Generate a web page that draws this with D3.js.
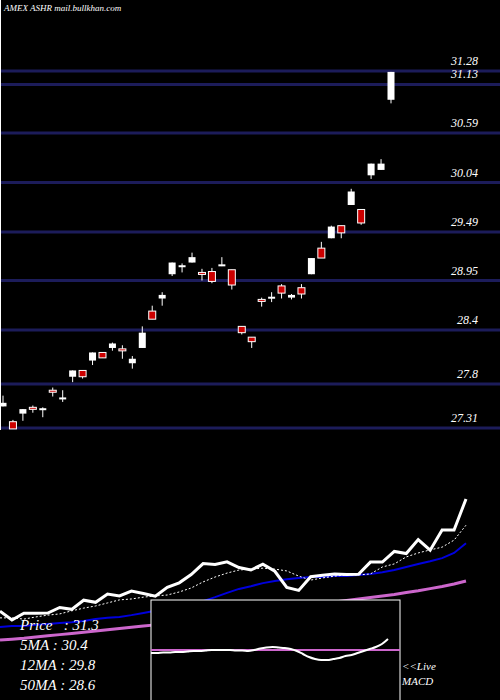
<!DOCTYPE html><html><head><meta charset="utf-8">
<script src="https://cdn.jsdelivr.net/npm/d3@7/dist/d3.min.js"></script>
<style>body{margin:0;background:#000}svg{display:block}</style></head><body>
<script>
const title = "AMEX  ASHR mail.bullkhan.com";
const tickLabels = ["31.28","31.13","30.59","30.04","29.49","28.95","28.4","27.8","27.31"];
const opens  = [27.55,27.38,27.47,27.54,27.52,27.73,27.64,27.88,27.95,28.06,28.15,28.20,28.19,28.03,28.20,28.61,28.75,29.02,29.12,29.15,29.04,29.05,29.13,29.07,28.44,28.32,28.74,28.77,28.89,28.76,28.87,29.02,29.31,29.42,29.56,29.79,29.74,30.12,30.18,30.96];
const highs  = [27.67,27.40,27.52,27.56,27.54,27.76,27.73,27.95,27.95,28.15,28.15,28.26,28.23,28.11,28.44,28.67,28.82,29.15,29.14,29.26,29.08,29.09,29.21,29.07,28.44,28.32,28.76,28.82,28.91,28.80,28.91,29.20,29.38,29.56,29.56,29.97,29.74,30.25,30.30,31.27];
const lows   = [27.55,27.30,27.39,27.48,27.43,27.66,27.60,27.82,27.86,28.01,28.09,28.17,28.08,27.97,28.20,28.52,28.67,29.00,29.04,29.15,28.95,28.92,29.11,28.85,28.35,28.20,28.66,28.71,28.75,28.74,28.75,29.02,29.20,29.42,29.42,29.79,29.57,30.08,30.18,30.92];
const closes = [27.59,27.30,27.52,27.52,27.53,27.71,27.65,27.95,27.88,28.15,28.09,28.25,28.17,28.08,28.37,28.52,28.79,29.15,29.12,29.21,29.02,28.94,29.13,28.90,28.37,28.27,28.72,28.77,28.81,28.79,28.80,29.20,29.20,29.55,29.48,29.94,29.59,30.25,30.25,31.27];
const ma5  = [27.37,27.37,27.33,27.40,27.46,27.50,27.60,27.69,27.76,27.86,27.96,27.99,28.05,28.09,28.12,28.22,28.35,28.55,28.71,28.84,28.94,28.97,29.00,28.97,28.91,28.74,28.61,28.68,28.74,28.78,28.78,28.81,29.04,29.14,29.37,29.50,29.60,29.69,29.92,30.41];
const ma12 = [27.07,27.10,27.10,27.14,27.17,27.20,27.23,27.27,27.33,27.37,27.40,27.46,27.53,27.60,27.66,27.76,27.82,27.92,28.05,28.19,28.32,28.41,28.51,28.58,28.64,28.68,28.71,28.71,28.74,28.74,28.78,28.81,28.87,28.94,29.04,29.14,29.23,29.33,29.50,29.82];
const ma50 = [26.64,26.67,26.70,26.74,26.78,26.82,26.86,26.90,26.94,26.98,27.02,27.06,27.10,27.14,27.19,27.24,27.29,27.34,27.39,27.44,27.49,27.54,27.59,27.64,27.69,27.74,27.79,27.84,27.89,27.94,27.99,28.04,28.09,28.14,28.20,28.26,28.33,28.40,28.48,28.58];
const macd = [-0.03,-0.03,-0.025,-0.025,-0.02,-0.02,-0.015,-0.01,-0.01,-0.005,0,0,0,0,-0.005,-0.005,-0.01,0,0.015,0.025,0.03,0.025,0.02,0.01,-0.01,-0.04,-0.07,-0.09,-0.10,-0.10,-0.09,-0.08,-0.06,-0.05,-0.03,-0.01,0.01,0.03,0.06,0.11];
const legend = ["Price   : 31.3","5MA : 30.4","12MA : 29.8","50MA : 28.6"];

const W=500,H=700;
const svg=d3.select("body").append("svg").attr("width",W).attr("height",H).style("background","#000");
const font="'Liberation Serif','DejaVu Serif',serif";
const y=d3.scaleLinear().domain([27.31,31.28]).range([428,71]);
const x=d3.scaleLinear().domain([0,39]).range([3,391]);
// grid
tickLabels.forEach(t=>{
  const yy=y(+t);
  svg.append("line").attr("x1",0).attr("x2",W).attr("y1",yy).attr("y2",yy).attr("stroke","#1c1c5a").attr("stroke-width",3);
  svg.append("text").attr("x",478).attr("y",yy-6).attr("text-anchor","end").attr("fill","#fff")
    .attr("font-family",font).attr("font-style","italic").attr("font-size",12).text(t);
});
svg.append("line").attr("x1",0.5).attr("x2",0.5).attr("y1",0).attr("y2",430).attr("stroke","#fff");
svg.append("text").attr("x",4).attr("y",11).attr("fill","#fff").attr("font-family",font).attr("font-style","italic").attr("font-size",9).text(title);
// candles
closes.forEach((c,i)=>{
  const o=opens[i],up=c>=o,cx=x(i);
  svg.append("line").attr("x1",cx).attr("x2",cx).attr("y1",y(highs[i])).attr("y2",y(lows[i])).attr("stroke","#fff").attr("stroke-width",1);
  const top=y(Math.max(o,c)),bh=Math.max(2,Math.abs(y(o)-y(c)));
  svg.append("rect").attr("x",cx-3.5).attr("y",top).attr("width",7).attr("height",bh)
    .attr("fill",up?"#fff":"#cc0000").attr("stroke","#fff").attr("stroke-width",up?0:1);
});
// lower panel
const y2=d3.scaleLinear().domain([27.3,31.27]).range([620,499]);
const x2=d3.scaleLinear().domain([0,39]).range([0,466]);
const ln=d3.line().x((d,i)=>x2(i)).y(d=>y2(d));
svg.append("path").attr("d",ln(ma50)).attr("fill","none").attr("stroke","#cc66cc").attr("stroke-width",3);
svg.append("path").attr("d",ln(ma12)).attr("fill","none").attr("stroke","#0000dd").attr("stroke-width",2);
svg.append("path").attr("d",ln(ma5)).attr("fill","none").attr("stroke","#fff").attr("stroke-width",1).attr("stroke-dasharray","2,2");
svg.append("path").attr("d",ln(closes)).attr("fill","none").attr("stroke","#fff").attr("stroke-width",3);
// macd box
svg.append("rect").attr("x",151).attr("y",600).attr("width",249).attr("height",105).attr("fill","#000").attr("stroke","#fff").attr("stroke-width",1);
svg.append("line").attr("x1",151).attr("x2",400).attr("y1",650).attr("y2",650).attr("stroke","#cc66cc").attr("stroke-width",2);
const xm=d3.scaleLinear().domain([0,39]).range([151,388]);
const ym=d3.scaleLinear().domain([0,0.1]).range([650,640]);
svg.append("path").attr("d",d3.line().x((d,i)=>xm(i)).y(d=>ym(d)).curve(d3.curveMonotoneX)(macd)).attr("fill","none").attr("stroke","#fff").attr("stroke-width",2);
legend.forEach((t,i)=>{
  svg.append("text").attr("x",20).attr("y",630+i*20).attr("fill","#fff").attr("font-family",font).attr("font-style","italic").attr("font-size",15).attr("xml:space","preserve").style("white-space","pre").text(t);
});
svg.append("text").attr("x",402).attr("y",670).attr("fill","#fff").attr("font-family",font).attr("font-style","italic").attr("font-size",11).text("<<Live");
svg.append("text").attr("x",402).attr("y",685).attr("fill","#fff").attr("font-family",font).attr("font-style","italic").attr("font-size",11).text("MACD");
</script></body></html>
